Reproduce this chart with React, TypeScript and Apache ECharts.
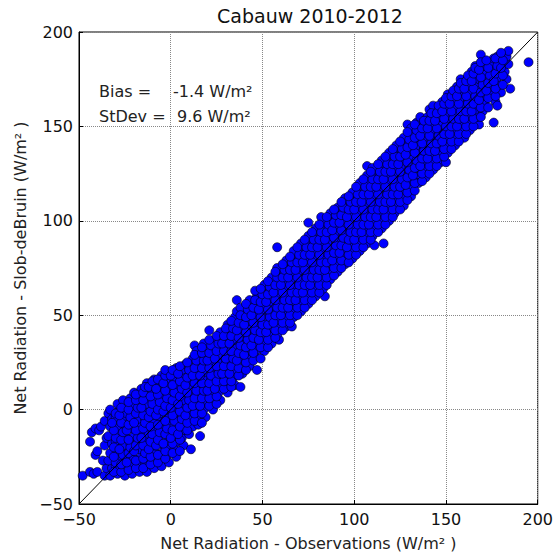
import React, { useEffect, useRef } from "react";
import * as echarts from "echarts";

const chartTitle = "Cabauw 2010-2012";
const xAxisName = "Net Radiation - Observations (W/m\u00B2 )";
const yAxisName = "Net Radiation - Slob-deBruin (W/m\u00B2 )";
const axisMin = -50;
const axisMax = 200;
const axisStep = 50;
const statNames = ["Bias =", "StDev ="];
const statValues = ["-1.4 W/m\u00B2", "9.6 W/m\u00B2"];
const identityLine: [number, number][] = [[-50, -50], [200, 200]];

// Observations (x) vs Slob-deBruin (y)
const nightPoints: [number, number][] = [
  [-48,-35],[-44,-33],[-42,-34],[-40,-33],[-41,-24],[-40,-22],[-44,-17],[-43,-12],[-41,-10],[-39,-11],[-38,-9],
  [-36,-35],[-35,-31],[-37,-27],[-36,-19],[-35,-15],[-36,-6],[-34,-2],
  [-33,-35],[-32,-31],[-34,-27],[-33,-23],[-32,-18],[-34,-14],[-33,-9],[-32,-5],[-33,0],
  [-29,-34],[-30,-30],[-28,-26],[-29,-22],[-30,-17],[-28,-13],[-29,-9],[-30,-4],[-28,0],[-29,3],
  [-25,-35],[-26,-31],[-24,-27],[-25,-23],[-26,-19],[-24,-15],[-25,-11],[-26,-6],[-24,-2],[-25,2],[-26,5],
  [-21,-34],[-22,-30],[-20,-26],[-21,-22],[-22,-18],[-20,-14],[-21,-10],[-22,-6],[-20,-2],[-21,2],[-22,6],[-20,9],
  [-17,-33],[-18,-29],[-16,-25],[-17,-21],[-18,-17],[-16,-13],[-17,-9],[-18,-5],[-16,-1],[-17,3],[-18,7],[-16,11],
  [-13,-33],[-14,-29],[-12,-25],[-13,-21],[-14,-17],[-12,-13],[-13,-9],[-14,-5],[-12,-1],[-13,3],[-14,7],[-12,10],[-13,14],
  [-9,-31],[-10,-27],[-8,-23],[-9,-19],[-10,-15],[-8,-11],[-9,-7],[-10,-3],[-8,1],[-9,5],[-10,9],[-8,13],[-9,16],
  [-5,-30],[-6,-26],[-4,-22],[-5,-18],[-6,-14],[-4,-10],[-5,-6],[-6,-2],[-4,2],[-5,6],[-6,10],[-4,14],[-5,18],
  [-1,-28],[-2,-24],[0,-20],[-1,-16],[-2,-12],[0,-8],[-1,-4],[-2,0],[0,4],[-1,8],[-2,12],[0,16],[-1,20],
];

const nightFill: [number, number][] = [
  [-31,-33],[-30,-28],[-31,-25],[-31,-20],[-30,-15],[-31,-11],[-32,-7],[-30,-2],
  [-27,-33],[-27,-29],[-26,-24],[-28,-21],[-27,-16],[-26,-12],[-27,-7],[-28,-3],[-27,1],
  [-23,-32],[-24,-28],[-23,-23],[-22,-20],[-23,-16],[-24,-11],[-23,-8],[-22,-4],[-23,0],[-23,4],
  [-19,-31],[-19,-27],[-20,-22],[-19,-19],[-18,-15],[-19,-11],[-20,-7],[-19,-2],[-18,1],[-19,5],[-19,8],
  [-15,-31],[-15,-26],[-14,-23],[-15,-19],[-16,-15],[-15,-10],[-14,-7],[-15,-3],[-16,1],[-15,5],[-15,9],[-14,12],
  [-11,-29],[-11,-25],[-12,-21],[-11,-17],[-10,-13],[-11,-9],[-12,-4],[-11,-1],[-10,3],[-11,7],[-12,12],[-10,15],
  [-7,-28],[-7,-24],[-8,-19],[-7,-16],[-6,-12],[-7,-8],[-8,-3],[-7,0],[-6,4],[-7,8],[-8,11],[-7,16],
  [-3,-26],[-3,-22],[-4,-18],[-3,-13],[-2,-10],[-3,-6],[-4,-1],[-3,2],[-2,6],[-3,10],[-4,14],[-3,18],[-3,21],
];

const dayLowPoints: [number, number][] = [
  [3,-25],[2,-21],[4,-17],[3,-13],[2,-9],[4,-5],[3,-1],[2,3],[4,7],[3,11],[2,15],[4,19],[3,22],
  [7,-19],[6,-15],[8,-11],[7,-7],[6,-3],[8,1],[7,5],[6,9],[8,13],[7,17],[6,21],[8,24],
  [11,-21],[10,-13],[12,-9],[11,-5],[10,-1],[12,3],[11,7],[10,11],[12,15],[11,19],[10,23],[12,27],[13,34],
  [16,-14],[15,-8],[14,-4],[16,0],[15,4],[14,8],[16,12],[15,16],[14,20],[16,24],[15,28],[14,31],
  [19,-4],[18,0],[20,4],[19,8],[18,12],[20,16],[19,20],[18,24],[20,28],[19,32],[18,35],
  [23,0],[22,4],[24,8],[23,12],[22,16],[24,20],[23,24],[22,28],[24,32],[23,36],[21,42],
  [27,5],[26,9],[28,13],[27,17],[26,21],[28,25],[27,29],[26,33],[28,37],[27,41],
  [31,9],[30,13],[32,17],[31,21],[30,25],[32,29],[31,33],[30,37],[32,41],[31,45],
  [35,13],[34,17],[36,21],[35,25],[34,29],[36,33],[35,37],[34,41],[36,45],[35,49],[36,52],[36,58],
  [39,19],[38,12],[40,23],[39,27],[38,31],[40,35],[39,39],[38,43],[40,47],[39,51],[38,54],
  [43,23],[42,27],[44,31],[43,35],[42,39],[44,43],[43,47],[42,51],[44,55],[43,58],
  [47,21],[46,28],[48,32],[47,36],[46,40],[48,44],[47,48],[46,52],[48,56],[47,60],[46,63],
  [51,31],[50,35],[52,39],[51,43],[50,47],[52,51],[51,55],[50,59],[52,63],[51,66],
  [55,35],[54,39],[56,43],[55,47],[54,51],[56,55],[55,59],[54,63],[56,67],[55,70],
  [59,37],[58,40],[60,44],[59,48],[58,52],[60,56],[59,60],[58,64],[60,68],[59,72],[58,75],[58,86],
];

const dayLowFill: [number, number][] = [
  [1,-23],[1,-18],[0,-15],[1,-11],[2,-6],[1,-3],[0,1],[1,5],[2,9],[1,13],[0,18],[1,21],
  [5,-22],[5,-16],[4,-13],[5,-9],[6,-5],[5,-1],[4,3],[5,7],[6,11],[5,15],[4,19],[5,23],
  [9,-11],[9,-7],[8,-3],[9,1],[10,5],[9,9],[8,13],[9,17],[10,21],[9,25],
  [13,-6],[13,-2],[12,2],[13,6],[14,10],[13,14],[12,18],[13,22],[14,26],[13,29],
  [17,-7],[17,-2],[16,2],[17,6],[18,10],[17,14],[16,18],[17,22],[18,26],[17,30],[17,33],
  [21,2],[21,6],[20,10],[21,14],[22,18],[21,22],[20,26],[21,30],[22,34],[21,37],
  [25,3],[25,7],[24,11],[25,15],[26,19],[25,23],[24,27],[25,31],[26,35],[25,39],
  [29,11],[29,15],[28,19],[29,23],[30,27],[29,31],[28,35],[29,39],[30,43],
  [33,12],[33,15],[32,19],[33,23],[34,27],[33,31],[32,35],[33,39],[34,43],[33,47],
  [37,18],[37,22],[36,26],[37,30],[38,34],[37,38],[36,42],[37,46],[38,50],
  [41,21],[41,25],[40,29],[41,33],[42,37],[41,41],[40,45],[41,49],[42,53],[41,56],
  [45,26],[45,30],[44,34],[45,38],[46,42],[45,46],[44,50],[45,54],[46,58],
  [49,27],[49,33],[48,37],[49,41],[50,45],[49,49],[48,53],[49,57],[50,61],[49,64],
  [53,33],[53,37],[52,41],[53,45],[54,49],[53,53],[52,57],[53,61],[54,65],[53,68],
  [57,38],[57,42],[56,46],[57,50],[58,54],[57,58],[56,62],[57,66],[58,70],[57,73],
];

const dayMidPoints: [number, number][] = [
  [63,44],[62,48],[64,52],[63,56],[62,60],[64,64],[63,68],[62,72],[64,76],[63,79],
  [66,44],[67,49],[66,53],[68,57],[67,61],[66,65],[68,69],[67,73],[66,77],[68,81],[67,84],
  [71,52],[70,56],[72,60],[71,64],[70,68],[72,72],[71,76],[70,80],[72,84],[71,88],
  [75,56],[74,60],[76,64],[75,68],[74,72],[76,76],[75,80],[74,84],[76,88],[75,92],[75,99],
  [79,60],[78,64],[80,68],[79,72],[78,76],[80,80],[79,84],[78,88],[80,92],[79,96],
  [84,60],[83,64],[82,68],[84,72],[83,76],[82,80],[84,84],[83,88],[82,92],[84,96],[83,100],[82,102],
  [87,69],[86,73],[88,77],[87,81],[86,85],[88,89],[87,93],[86,97],[88,101],[87,104],
  [91,73],[90,77],[92,81],[91,85],[90,89],[92,93],[91,97],[90,101],[92,104],[91,107],
  [95,77],[94,81],[96,85],[95,89],[94,93],[96,97],[95,101],[94,105],[96,109],[95,112],
  [99,80],[98,84],[100,88],[99,92],[98,96],[100,100],[99,104],[98,108],[100,112],[99,115],
  [103,84],[102,88],[104,92],[103,96],[102,100],[104,104],[103,108],[102,112],[104,116],[103,120],
  [107,88],[106,92],[108,96],[107,100],[106,104],[108,108],[107,112],[106,116],[108,120],[107,124],[107,129],
  [111,87],[110,92],[112,96],[111,100],[110,104],[112,108],[111,112],[110,116],[112,120],[111,124],[110,128],
  [116,88],[115,96],[114,100],[116,104],[115,108],[114,112],[116,116],[115,120],[114,124],[116,128],[115,132],
  [119,100],[118,104],[120,108],[119,112],[118,116],[120,120],[119,124],[118,128],[120,132],[119,136],
];

const dayMidFill: [number, number][] = [
  [61,42],[61,46],[60,50],[61,54],[62,58],[61,62],[60,66],[61,70],[62,74],[61,77],
  [65,46],[65,50],[64,54],[65,58],[66,62],[65,66],[64,70],[65,74],[66,78],[65,81],
  [69,50],[69,54],[68,58],[69,62],[70,66],[69,70],[68,74],[69,78],[70,82],[69,86],
  [73,54],[73,58],[72,62],[73,66],[74,70],[73,74],[72,78],[73,82],[74,86],[73,90],
  [77,58],[77,62],[76,66],[77,70],[78,74],[77,78],[76,82],[77,86],[78,90],[77,94],
  [81,62],[81,66],[80,70],[81,74],[82,78],[81,82],[80,86],[81,90],[82,94],[81,98],
  [85,66],[85,70],[84,74],[85,78],[86,82],[85,86],[84,90],[85,94],[86,98],[85,102],
  [89,71],[89,75],[88,79],[89,83],[90,87],[89,91],[88,95],[89,99],[90,103],[89,106],
  [93,75],[93,79],[92,83],[93,87],[94,91],[93,95],[92,99],[93,103],[94,107],[93,110],
  [97,78],[97,82],[96,86],[97,90],[98,94],[97,98],[96,102],[97,106],[98,110],[97,113],
  [101,82],[101,86],[100,90],[101,94],[102,98],[101,102],[100,106],[101,110],[102,114],[101,118],
  [105,86],[105,90],[104,94],[105,98],[106,102],[105,106],[104,110],[105,114],[106,118],[105,122],
  [109,90],[109,94],[108,98],[109,102],[110,106],[109,110],[108,114],[109,118],[110,122],[109,126],
  [113,94],[113,98],[112,102],[113,106],[114,110],[113,114],[112,118],[113,122],[114,126],[113,130],
  [117,98],[117,102],[116,106],[117,110],[118,114],[117,118],[116,122],[117,126],[118,130],[117,134],
];

const dayHighPoints: [number, number][] = [
  [122,104],[123,108],[124,112],[123,116],[122,120],[124,124],[123,128],[122,132],[124,136],[123,140],
  [127,108],[126,112],[128,116],[127,120],[126,124],[128,128],[127,132],[126,136],[128,140],[127,144],[129,151],
  [131,113],[130,117],[132,121],[131,125],[130,129],[132,133],[131,137],[130,141],[132,145],[131,149],
  [136,124],[135,120],[134,128],[136,132],[135,136],[134,140],[136,144],[135,148],[134,152],[136,155],
  [139,123],[138,127],[140,131],[139,135],[138,139],[140,143],[139,147],[138,151],[140,155],[141,159],
  [143,127],[142,131],[144,135],[143,139],[142,143],[144,147],[143,151],[142,155],[144,159],[143,161],
  [147,131],[146,135],[148,139],[147,143],[146,147],[148,151],[147,155],[146,159],[148,163],
  [150,131],[151,136],[152,140],[151,144],[150,148],[152,152],[151,156],[150,160],[152,164],[151,167],
  [155,140],[154,144],[156,148],[155,152],[154,156],[156,160],[155,164],[154,168],[156,171],
  [160,144],[159,148],[158,152],[160,156],[159,160],[158,164],[160,168],[159,172],[158,175],
  [163,148],[162,152],[164,156],[163,160],[162,164],[164,168],[163,172],[162,176],[164,179],
  [168,151],[167,155],[166,159],[168,163],[167,167],[166,171],[168,175],[167,179],[166,182],
  [170,158],[171,162],[172,166],[171,170],[170,174],[172,178],[171,182],[170,185],[169,188],
  [176,152],[177,163],[175,167],[174,171],[176,175],[175,179],[174,183],[176,186],
  [178,161],[180,168],[179,172],[178,176],[180,180],[179,184],[178,187],
  [185,170],[183,175],[182,179],[184,183],[183,187],[184,190],
  [195,184],
];

const dayHighFill: [number, number][] = [
  [121,102],[121,106],[120,110],[121,114],[122,118],[121,122],[120,126],[121,130],[122,134],[121,138],
  [125,106],[125,110],[124,114],[125,118],[126,122],[125,126],[124,130],[125,134],[126,138],[125,142],
  [129,111],[129,115],[128,119],[129,123],[130,127],[129,131],[128,135],[129,139],[130,143],[129,147],
  [133,116],[133,120],[132,124],[133,128],[134,132],[133,136],[132,140],[133,144],[134,148],[133,151],
  [137,121],[137,125],[136,129],[137,133],[138,137],[137,141],[136,145],[137,149],[138,153],
  [141,125],[141,129],[140,133],[141,137],[142,141],[141,145],[140,149],[141,153],[142,157],
  [145,129],[145,133],[144,137],[145,141],[146,145],[145,149],[144,153],[145,157],[146,161],
  [149,134],[149,138],[148,142],[149,146],[150,150],[149,154],[148,158],[149,162],[150,165],
  [153,138],[153,142],[152,146],[153,150],[154,154],[153,158],[152,162],[153,166],[154,169],
  [157,142],[157,146],[156,150],[157,154],[158,158],[157,162],[156,166],[157,170],[158,173],
  [161,146],[161,150],[160,154],[161,158],[162,162],[161,166],[160,170],[161,174],[162,177],
  [165,150],[165,154],[164,158],[165,162],[166,166],[165,170],[164,174],[165,178],[166,181],
  [169,155],[169,160],[168,164],[169,168],[170,172],[169,176],[168,180],[169,184],
  [173,160],[173,165],[172,169],[173,173],[174,177],[173,181],[172,185],
  [177,166],[177,170],[176,174],[177,178],[178,182],[177,186],
  [181,172],[181,177],[180,181],[181,185],[180,189],
];

const FONT = "DejaVu Sans";
const minus = (v: number) => String(v).replace("-", "\u2212");

export default function App() {
  const ref = useRef<HTMLDivElement>(null);
  useEffect(() => {
    if (!ref.current) return;
    const chart = echarts.init(ref.current, undefined, { renderer: "svg" });
    const allPoints = [
      ...nightPoints, ...nightFill,
      ...dayLowPoints, ...dayLowFill,
      ...dayMidPoints, ...dayMidFill,
      ...dayHighPoints, ...dayHighFill,
    ];
    const axisCommon = {
      type: "value" as const,
      min: axisMin,
      max: axisMax,
      interval: axisStep,
      nameLocation: "middle" as const,
      axisLine: { show: true, onZero: false, lineStyle: { color: "#000", width: 1 } },
      axisTick: { show: true, inside: true, length: 4, lineStyle: { color: "#000" } },
      splitLine: { show: true, lineStyle: { type: "dotted" as const, color: "#888", width: 1 } },
      nameTextStyle: { color: "#222", fontSize: 16, fontFamily: FONT },
    };
    chart.setOption({
      animation: false,
      backgroundColor: "#fff",
      grid: { left: 79, right: 14, top: 32, bottom: 51, show: true, borderColor: "#000", borderWidth: 1 },
      xAxis: {
        ...axisCommon,
        name: xAxisName,
        nameGap: 31,
        axisLabel: { color: "#111", fontSize: 16, fontFamily: FONT, margin: 7, formatter: minus, showMinLabel: true, showMaxLabel: true },
      },
      yAxis: {
        ...axisCommon,
        name: yAxisName,
        nameGap: 50,
        axisLabel: { color: "#111", fontSize: 16, fontFamily: FONT, margin: 6, formatter: minus, showMinLabel: true, showMaxLabel: true },
      },
      graphic: [
        { type: "text", x: 310, y: 16, style: { text: chartTitle, font: `19px '${FONT}'`, fill: "#111", textAlign: "center", textVerticalAlign: "middle" } },
        ...statNames.map((s, i) => ({ type: "text", x: 99, y: 91 + i * 25, style: { text: s, font: `16px '${FONT}'`, fill: "#222", textAlign: "left", textVerticalAlign: "middle" } })),
        ...statValues.map((s, i) => ({ type: "text", x: i === 0 ? 173 : 177, y: 91 + i * 25, style: { text: s, font: `16px '${FONT}'`, fill: "#222", textAlign: "left", textVerticalAlign: "middle" } })),
      ],
      series: [
        {
          type: "scatter",
          data: allPoints,
          symbol: "circle",
          symbolSize: 9,
          itemStyle: { color: "#0000ff", borderColor: "#000", borderWidth: 0.6, opacity: 1 },
          z: 2,
        },
        {
          type: "line",
          data: identityLine,
          symbol: "none",
          lineStyle: { color: "#000", width: 1 },
          z: 3,
        },
      ],
    });
    return () => chart.dispose();
  }, []);
  return <div ref={ref} style={{ position: "fixed", left: 0, top: 0, width: 556, height: 556 }} />;
}
